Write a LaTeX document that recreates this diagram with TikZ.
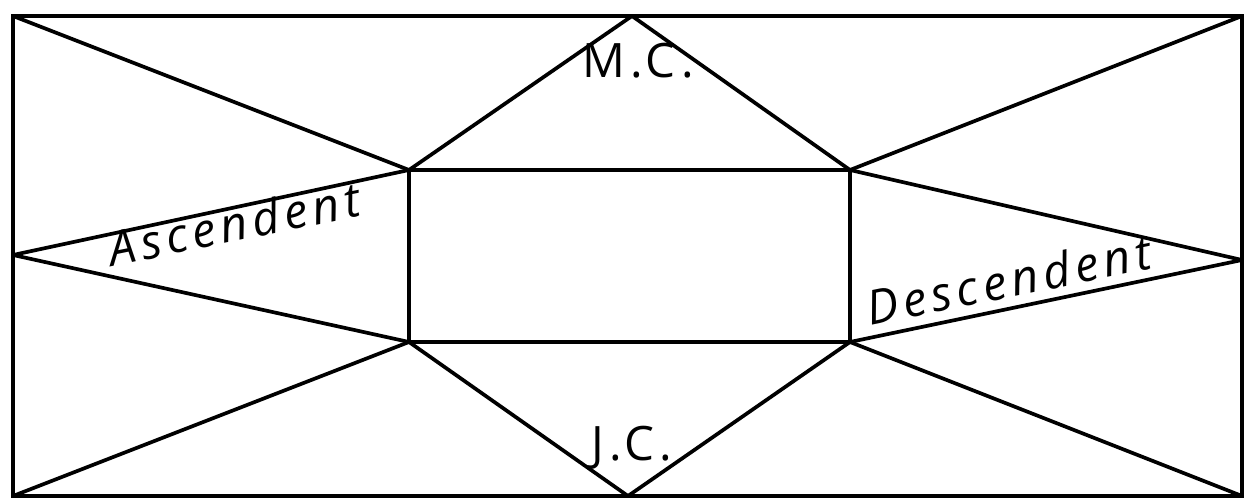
\documentclass[tikz,border=0pt]{standalone}
\usepackage{fontspec}
\setmainfont{Open Sans}
\newfontfamily\handfont[LetterSpace=11]{Open Sans}
\usepackage{tikz}
\usetikzlibrary{positioning,calc}

\begin{document}
\begin{tikzpicture}[
  x=0.02cm, y=-0.02cm,
  frame/.style={line width=2.8pt, line join=miter},
  house/.style={line width=2.1pt, line join=round, line cap=round},
  angle/.style={font=\handfont\fontsize{27}{27}\selectfont, inner sep=0pt, anchor=base},
  cusp/.style={font=\handfont\itshape\fontsize{27}{27}\selectfont, inner sep=0pt,
               anchor=base, rotate=11.5}
]
\useasboundingbox (0,0) rectangle (1247,499);

% Outer corners and midpoints
\coordinate (tl) at (13,16);
\coordinate (tr) at (1242,16);
\coordinate (br) at (1242,496);
\coordinate (bl) at (13,496);
\coordinate (mt) at (632,16);
\coordinate (mb) at (628,496);
\coordinate (ml) at (13,255);
\coordinate (mr) at (1242,260);

% Inner box corners
\coordinate (ia) at (409,170);
\coordinate (ib) at (850,170);
\coordinate (ic) at (850,342);
\coordinate (id) at (409,342);

% Inner box
\draw[house] (ia) -- (ib) -- (ic) -- (id) -- cycle;

% Corner lines
\draw[house] (tl) -- (ia);
\draw[house] (tr) -- (ib);
\draw[house] (br) -- (ic);
\draw[house] (bl) -- (id);

% Midheaven and Imum Coeli
\draw[house] (ia) -- (mt) -- (ib);
\draw[house] (id) -- (mb) -- (ic);

% Ascendent and Descendent
\draw[house] (ia) -- (ml) -- (id);
\draw[house] (ib) -- (mr) -- (ic);

% Outer frame
\draw[frame] (tl) rectangle (br);

% Labels
\node[angle] (mclabel) at (638,78) {M.C.};
\node[angle] (jclabel) at (632,460) {J.C.};
\node[cusp] (asclabel) at (238,241) {Ascendent};
\node[cusp] (desclabel) at (1012,297) {Descendent};

\end{tikzpicture}
\end{document}
